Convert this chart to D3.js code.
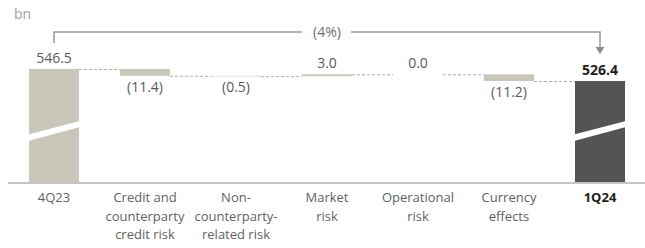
<!DOCTYPE html>
<html>
<head>
<meta charset="utf-8">
<script src="https://cdn.jsdelivr.net/npm/d3@7"></script>
<style>
  html, body { margin: 0; padding: 0; background: #fff; }
  svg { display: block; font-family: "Open Sans", "Noto Sans", sans-serif; }
</style>
</head>
<body>
<svg id="chart" width="645" height="248"></svg>
<script>
// ---- data ----
const categories = ["4Q23", "Credit and counterparty credit risk", "Non-counterparty-related risk", "Market risk", "Operational risk", "Currency effects", "1Q24"];
const categoryLines = [
  ["4Q23"],
  ["Credit and", "counterparty", "credit risk"],
  ["Non-", "counterparty-", "related risk"],
  ["Market", "risk"],
  ["Operational", "risk"],
  ["Currency", "effects"],
  ["1Q24"]
];
const kinds = ["total", "delta", "delta", "delta", "delta", "delta", "total"];
const values = [546.5, -11.4, -0.5, 3.0, 0.0, -11.2, 526.4];
const valueLabels = ["546.5", "(11.4)", "(0.5)", "3.0", "0.0", "(11.2)", "526.4"];
const changeLabel = "(4%)";
const unitLabel = "bn";
const axisBreakBase = 355.5; // value at the (broken) baseline

// ---- build waterfall ----
let running = 0;
const rows = categories.map((c, i) => {
  let start, end;
  if (kinds[i] === "total") { start = axisBreakBase; end = values[i]; running = values[i]; }
  else { start = running; end = running + values[i]; running = end; }
  return { cat: c, i, kind: kinds[i], v: values[i], start, end, lines: categoryLines[i], label: valueLabels[i] };
});

const svg = d3.select("#chart");
const x = d3.scaleBand().domain(categories).range([8.5, 645.5]).paddingInner(0.45).paddingOuter(0.225);
const y = d3.scaleLinear().domain([axisBreakBase, 546.5]).range([183, 69]);

const lightFill = "#c9c7b9";
const darkFill = "#545454";

// unit
svg.append("text").attr("x", 14).attr("y", 19).attr("font-size", 14).attr("fill", "#a0a0a0").text(unitLabel);

// connectors
for (let i = 0; i < rows.length - 1; i++) {
  const lvl = rows[i].kind === "total" ? rows[i].end : rows[i].end;
  svg.append("line")
    .attr("x1", x(rows[i].cat) + x.bandwidth()).attr("x2", x(rows[i + 1].cat))
    .attr("y1", y(lvl) + 0.5).attr("y2", y(lvl) + 0.5)
    .attr("stroke", "#b0b0b0").attr("stroke-width", 1).attr("stroke-dasharray", "3,2");
}

// bars
svg.selectAll("rect.bar").data(rows).join("rect")
  .attr("class", "bar")
  .attr("x", d => x(d.cat))
  .attr("width", x.bandwidth())
  .attr("y", d => y(Math.max(d.start, d.end)))
  .attr("height", d => Math.max(Math.abs(y(d.start) - y(d.end)), d.kind === "delta" && d.v !== 0 ? 0.6 : 0))
  .attr("fill", d => d.cat === "1Q24" ? darkFill : lightFill);

// break bands on total bars
rows.filter(d => d.kind === "total").forEach(d => {
  const x0 = x(d.cat) - 1, x1 = x(d.cat) + x.bandwidth() + 1;
  const pts = [[x0, 134.5], [x1, 121], [x1, 127], [x0, 141]];
  svg.append("polygon").attr("points", pts.map(p => p.join(",")).join(" ")).attr("fill", "#fff");
});

// value labels
svg.selectAll("text.val").data(rows).join("text")
  .attr("class", "val")
  .attr("x", d => x(d.cat) + x.bandwidth() / 2)
  .attr("y", d => d.v < 0 ? y(Math.min(d.start, d.end)) + 16 : y(Math.max(d.start, d.end)) - 6)
  .attr("text-anchor", "middle")
  .attr("font-size", 14)
  .attr("font-weight", d => d.cat === "1Q24" ? 700 : 400)
  .attr("fill", d => d.cat === "1Q24" ? "#1e1e1e" : "#5a5a5a")
  .text(d => d.label);

// axis baseline
svg.append("line").attr("x1", 8).attr("x2", 645).attr("y1", 183).attr("y2", 183)
  .attr("stroke", "#c4c4c4").attr("stroke-width", 2);

// category labels
const cat = svg.selectAll("text.cat").data(rows).join("text")
  .attr("class", "cat")
  .attr("x", d => x(d.cat) + x.bandwidth() / 2)
  .attr("y", 202)
  .attr("text-anchor", "middle")
  .attr("font-size", 13)
  .attr("font-weight", d => d.cat === "1Q24" ? 700 : 400)
  .attr("fill", d => d.cat === "1Q24" ? "#1e1e1e" : "#5f5f5f");
cat.selectAll("tspan").data(d => d.lines.map(l => ({ l, d }))).join("tspan")
  .attr("x", t => x(t.d.cat) + x.bandwidth() / 2)
  .attr("dy", (t, j) => j === 0 ? 0 : 18.5)
  .text(t => t.l);

// change bracket
const xa = x(categories[0]) + x.bandwidth() / 2;
const xb = x(categories[categories.length - 1]) + x.bandwidth() / 2;
const xm = (xa + xb) / 2;
const by = 32;
const gc = "#9a9a9a";
svg.append("path")
  .attr("d", `M${xa},43 V${by} H${xm - 25}`)
  .attr("fill", "none").attr("stroke", gc).attr("stroke-width", 1.5);
svg.append("path")
  .attr("d", `M${xm + 24},${by} H${xb} V50`)
  .attr("fill", "none").attr("stroke", gc).attr("stroke-width", 1.5);
svg.append("path")
  .attr("d", `M${xb - 4.5},47 L${xb + 4.5},47 L${xb},54 Z`)
  .attr("fill", "#8a8a8a");
svg.append("text").attr("x", xm).attr("y", by + 5).attr("text-anchor", "middle")
  .attr("font-size", 14).attr("fill", "#707070").text(changeLabel);
</script>
</body>
</html>
